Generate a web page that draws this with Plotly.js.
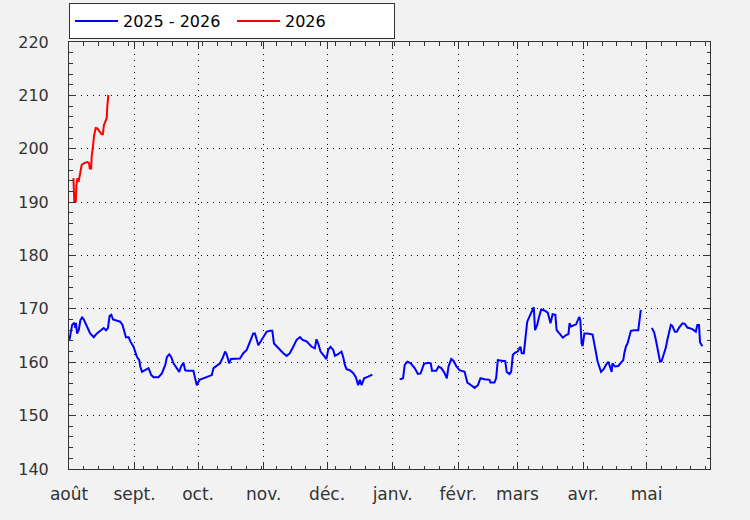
<!DOCTYPE html>
<html><head><meta charset="utf-8">
<script src="https://cdn.plot.ly/plotly-3.0.1.min.js"></script>
<style>html,body{margin:0;padding:0;background:#f2f2f2}</style>
</head><body><div id="chart" style="width:750px;height:520px"></div>
<script>
// x = days since 1 August (season start)
const monthStarts = [0, 31, 61, 92, 122, 153, 184, 212, 243, 273];
const monthLabels = ['août', 'sept.', 'oct.', 'nov.', 'déc.', 'janv.', 'févr.', 'mars', 'avr.', 'mai'];
const seriesNames = ['2025 - 2026', '2026'];

const blueDays = [
  0.2,1.0,1.5,2.5,3.0,3.3,3.8,4.6,5.4,6.2,7.0,8.5,10.0,11.7,13.2,14.8,16.4,17.5,18.4,19.2,20.0,20.8,22.7,24.2,25.3,26.3,26.9,28.2,29.0,30.5,
  31.3,32.1,33.2,33.7,34.5,36.0,37.6,38.9,40.0,42.3,43.9,45.5,46.3,47.4,48.3,49.4,51.0,52.1,53.0,54.1,54.9,55.7,58.8,59.6,60.4,61.7,63.5,65.9,67.5,68.3,
  69.9,71.4,72.5,73.8,74.6,75.7,76.5,78.5,80.8,82.4,84.0,85.6,87.1,87.9,89.5,91.1,93.4,95.0,96.1,96.9,98.9,101.3,102.9,104.4,106.0,107.6,109.2,110.4,112.3,114.7,
  116.2,117.0,117.8,118.9,120.2,121.7,122.5,123.6,124.9,125.7,127.2,128.8,129.6,130.4,131.2,132.7,134.3,135.6,136.7,137.5,138.3,139.5,141.4,143.4,
  null,
  156.3,157.9,158.7,160.0,161.5,163.4,164.9,166.2,167.8,169.7,171.0,171.6,173.6,174.7,176.0,177.5,178.6,179.4,180.7,181.9,183.0,184.6,187.0,188.3,190.1,191.7,193.3,194.5,196.4,198.8,
  199.2,201.1,201.9,202.7,204.6,206.2,206.9,208.2,209.0,209.8,210.9,212.1,213.4,214.0,215.0,215.8,216.6,217.6,218.7,219.7,220.3,221.3,222.0,223.2,224.7,226.3,227.6,228.6,229.9,230.5,
  231.8,233.4,235.0,236.1,236.6,237.3,239.7,241.2,241.7,242.3,242.8,243.6,245.1,247.5,248.3,249.1,249.9,251.5,252.7,253.8,254.9,255.7,256.5,256.9,258.1,259.6,261.2,262.0,262.5,263.3,
  264.0,264.8,265.6,267.2,269.1,269.6,270.3,
  null,
  275.5,276.6,277.4,278.2,279.0,279.4,280.1,281.0,282.1,282.9,283.7,284.5,285.2,286.4,287.3,288.4,290.0,291.1,292.3,294.7,296.3,297.0,297.8,298.3,299.4
];
const blueValues = [
  164.2,165.7,167.0,167.4,166.4,167.4,165.4,166.0,167.9,168.4,168.0,166.7,165.4,164.7,165.4,165.9,166.4,166.0,166.4,168.7,168.9,168.0,167.8,167.6,167.0,165.7,164.7,164.7,163.9,162.9,
  161.7,161.0,160.4,159.2,158.2,158.5,158.9,157.6,157.2,157.2,157.9,159.5,161.0,161.5,161.0,159.8,158.9,158.2,159.2,159.9,158.5,158.4,158.4,157.0,155.7,156.7,157.0,157.4,157.6,158.9,
  159.3,159.8,160.7,162.0,161.4,159.8,160.6,160.7,160.7,161.7,162.3,163.9,165.4,165.4,163.2,164.2,165.7,165.9,165.9,163.5,162.6,161.7,161.2,161.7,162.9,164.2,164.7,164.2,163.9,162.9,
  162.6,164.3,163.5,162.0,161.4,160.6,162.3,162.9,162.3,161.2,161.5,162.0,161.0,159.5,158.7,158.5,158.0,157.2,155.7,156.7,155.7,157.0,157.3,157.7,
  null,
  156.8,157.0,159.5,160.1,159.8,158.9,157.8,157.9,159.7,159.9,159.8,158.4,158.4,159.2,158.9,158.0,157.0,159.2,160.6,160.2,159.3,158.5,158.2,156.2,155.7,155.2,155.7,157.0,156.8,156.7,
  156.2,156.2,157.0,160.4,160.3,160.2,158.2,157.8,158.2,161.4,161.8,162.0,162.9,161.7,161.7,165.1,167.6,168.5,169.5,170.3,166.0,167.0,168.2,169.9,169.7,169.3,167.3,169.0,168.9,166.0,
  165.4,164.6,165.1,165.3,167.3,166.7,167.1,168.5,167.9,163.5,163.0,165.4,165.4,165.2,163.5,161.7,160.1,158.2,158.7,159.5,160.1,159.2,158.2,159.8,159.2,159.3,160.1,160.4,161.7,163.0,
  163.5,165.0,165.9,166.0,166.0,167.6,169.8,
  null,
  166.4,165.6,164.2,162.3,160.7,160.1,160.2,161.4,162.7,164.3,166.0,167.0,166.8,165.7,165.7,166.5,167.3,167.2,166.5,166.2,165.7,167.0,167.0,163.7,163.0
];

const redDays = [2.1,2.5,3.2,3.5,4.0,4.5,5.0,5.5,6.0,7.1,8.7,9.5,9.8,10.5,10.7,11.4,11.8,12.6,13.4,14.5,15.4,16.0,16.5,17.3,17.8,18.1,18.6];
const redValues = [194.5,190.1,190.1,193.2,194.5,193.8,194.8,195.7,197.0,197.3,197.5,197.3,196.3,196.3,198.5,200.7,202.3,203.9,203.8,203.2,202.7,202.7,204.4,205.2,205.7,207.9,210.1];

const FONT = 'DejaVu Sans';
const AX = '#333';
const xRange = [0, 303];
const yRange = [140, 220];

const traces = [
  {x: blueDays, y: blueValues, name: seriesNames[0], type: 'scatter', mode: 'lines',
   line: {color: '#0000ff', width: 2}, connectgaps: false},
  {x: redDays, y: redValues, name: seriesNames[1], type: 'scatter', mode: 'lines',
   line: {color: '#ff0000', width: 2}}
];

const layout = {
  width: 750, height: 520,
  paper_bgcolor: '#f2f2f2', plot_bgcolor: '#f2f2f2',
  margin: {l: 69, r: 40, t: 42, b: 51, autoexpand: false},
  font: {family: FONT, color: '#222'},
  showlegend: true,
  legend: {orientation: 'h', x: 0, xanchor: 'left', y: 1.007, yanchor: 'bottom',
    bgcolor: '#ffffff', bordercolor: '#333', borderwidth: 1,
    font: {family: FONT, size: 16, color: '#000'},
    itemwidth: 43, entrywidth: 104, entrywidthmode: 'pixels'},
  xaxis: {range: xRange, tickmode: 'array', tickvals: monthStarts, ticktext: monthLabels,
    ticks: 'inside', ticklen: 7, tickwidth: 1, tickcolor: AX, mirror: 'allticks',
    showline: true, linecolor: AX, linewidth: 1, zeroline: false,
    showgrid: true, gridcolor: '#000', gridwidth: 1, griddash: '1px,5px',
    tickfont: {family: FONT, size: 17, color: '#333'}, ticklabelstandoff: 10,
    minor: {tickmode: 'linear', tick0: 0, dtick: 7, ticks: 'inside', ticklen: 3.5, tickwidth: 1, tickcolor: AX, showgrid: false}},
  xaxis2: {range: xRange, overlaying: 'x', anchor: 'y', side: 'bottom', tickmode: 'array', tickvals: monthStarts,
    ticks: 'outside', ticklen: 7, tickwidth: 1, tickcolor: AX, showticklabels: false,
    showline: false, showgrid: false, zeroline: false,
    minor: {tickmode: 'linear', tick0: 0, dtick: 7, ticks: 'outside', ticklen: 3.5, tickwidth: 1, tickcolor: AX, showgrid: false}},
  yaxis: {range: yRange, tickmode: 'linear', tick0: 140, dtick: 10,
    ticks: 'inside', ticklen: 7, tickwidth: 1, tickcolor: AX, mirror: 'allticks',
    showline: true, linecolor: AX, linewidth: 1, zeroline: false,
    showgrid: true, gridcolor: '#000', gridwidth: 1, griddash: '1px,5px',
    tickfont: {family: FONT, size: 16, color: '#333'}, ticklabelstandoff: 16,
    minor: {dtick: 2, ticks: 'inside', ticklen: 3.5, tickwidth: 1, tickcolor: AX, showgrid: false}},
  yaxis2: {range: yRange, overlaying: 'y', anchor: 'x', side: 'left', tickmode: 'linear', tick0: 140, dtick: 10,
    ticks: 'outside', ticklen: 7, tickwidth: 1, tickcolor: AX, showticklabels: false,
    showline: false, showgrid: false, zeroline: false,
    minor: {dtick: 2, ticks: 'outside', ticklen: 3.5, tickwidth: 1, tickcolor: AX, showgrid: false}}
};

Plotly.newPlot('chart', traces, layout, {displayModeBar: false, staticPlot: true});
</script></body></html>
